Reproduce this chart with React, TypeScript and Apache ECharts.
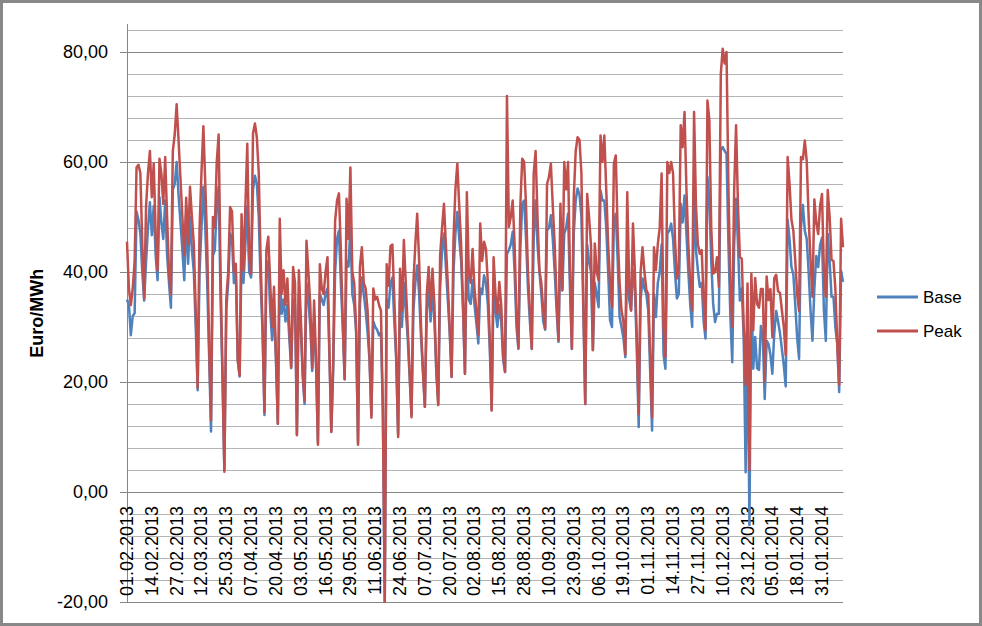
import React, { useEffect, useRef } from "react";
import * as echarts from "echarts";

// Daily series starting 01.02.2013 (Friday), one value per day, weeks Fri..Thu
const startDate = "2013-02-01";
const dayCount = 376;

const base: number[] = [
  35, 34, 28.5, 32, 32.5, 51, 49.5,
  47, 40, 34.8, 42, 48, 52.7, 46.7,
  52, 43, 38.5, 53.6, 49, 46, 53,
  43, 38, 33.5, 55, 56, 60, 54,
  49, 44, 38.5, 50.5, 41.5, 50, 44,
  40, 30, 18.5, 40, 48, 55.5, 48,
  38, 25, 11, 43, 44, 52, 55.5,
  35, 21, 4, 33, 38, 47, 46,
  38, 40, 24, 21, 43, 38, 45,
  52, 40, 39, 55, 57.5, 56, 50,
  38, 29, 14, 40, 42, 33, 27.6,
  33, 24, 12.4, 40, 32.4, 35, 31,
  34, 28, 22.5, 35, 34, 10.5, 36,
  30, 21, 16, 38, 35, 30, 22,
  31, 23, 9, 36, 35, 34, 36,
  37, 25, 11, 22, 40, 46, 47.5,
  38, 30, 20.5, 42, 41, 48, 36,
  34, 29, 9, 34, 39, 36, 33,
  29, 24, 14, 31, 30, 29.5, 28.5,
  29, 15, -20, 35, 33.5, 38, 39,
  31, 24, 10.5, 35, 30, 38, 33,
  28, 21, 14, 33, 38, 41.2, 36,
  28, 22, 15.5, 33, 36.7, 31, 37,
  31, 22, 16, 37, 44, 47, 41,
  35, 29, 21, 40, 47, 50.9, 46,
  42, 33, 21.5, 44, 35, 34.2, 38.5,
  34, 30.6, 27, 37, 36, 39.4, 38,
  34, 26, 15, 37, 33, 30, 34,
  31, 24, 21.8, 43.3, 44, 45, 47.3,
  40, 30, 26, 44, 52.4, 53, 46,
  37, 31, 26, 46, 53, 45, 40,
  36, 31, 29.5, 47.6, 48, 50.3, 46,
  40, 33, 27.3, 45, 36.7, 47, 48,
  50.6, 37, 26, 47, 53, 55.2, 54,
  50, 33, 16, 45, 42, 40, 25.8,
  38, 36, 33.6, 54.8, 53, 53, 48,
  40, 31.2, 30, 48.8, 50.6, 42, 31.8,
  30, 28, 24.5, 44.5, 35, 33, 40.3,
  37, 26, 11.8, 35, 38.8, 37, 36,
  33, 22, 11.2, 36, 31.8, 38, 40,
  45, 25, 22.4, 47, 47.5, 48.8, 46,
  40, 35.2, 36, 52.4, 49, 53.9, 47,
  40, 34, 30, 54.5, 44, 40.3, 37.3,
  38, 31, 27.9, 57.3, 53, 42, 34.2,
  30.9, 32.4, 32.4, 62.1, 62.7, 62, 61.5,
  45, 32, 23.6, 45, 53.3, 45, 34.8,
  37, 28, 3.6, 30, -6, 37, 22.4,
  28.2, 22.5, 22.2, 30.2, 28, 16.9, 27.5,
  26.9, 24.9, 21.5, 28.9, 32.9, 31, 28.9,
  26, 23, 19.2, 49.5, 46, 40.9, 39.5,
  34, 28, 24.2, 48.2, 52.2, 47.5, 46,
  40, 33, 27.5, 36.9, 42.9, 40.9, 44.9,
  46.2, 33, 27.5, 46.9, 42, 35.5, 35.5,
  30, 26.9, 18.2, 40.2, 38.2,
];

const peak: number[] = [
  45.5, 37, 34, 37, 42, 59, 59.5,
  58, 45, 35.2, 52, 58, 62, 53.6,
  59.7, 47, 40.3, 60.6, 57.9, 52.4, 60.9,
  50, 40, 36, 62, 65, 70.5, 64,
  57, 50, 43, 53.5, 45, 55.5, 50,
  45, 33, 19, 48, 58, 66.5, 56,
  45, 27, 13, 50, 48, 60, 65,
  40, 22, 3.7, 35, 40, 51.8, 51,
  40, 41.5, 24, 21.2, 50.5, 40.3, 52,
  63.3, 42.7, 39.7, 65.2, 67, 64.5, 58,
  42, 30, 14.5, 44, 46.4, 38, 30,
  37.3, 25, 12.4, 49.7, 36, 40.3, 34,
  38.8, 30, 22.7, 40.9, 38, 10.3, 40.3,
  32, 22, 16.6, 45.7, 40, 34, 22.5,
  34.8, 24, 8.6, 41.4, 37, 36, 40,
  42.7, 26, 10.9, 24, 49.3, 53, 54.3,
  44, 31, 20.5, 53.3, 46, 59, 40,
  38, 30, 8.6, 41, 44.5, 38, 37,
  33, 25, 13.5, 37, 35, 35.5, 34,
  33, 15, -20, 41.4, 37.5, 44.7, 45,
  35, 25, 10, 40.6, 33, 45.8, 38,
  30, 22, 13.6, 38, 45, 50.6, 42,
  30, 22, 15.5, 36, 40.9, 33, 40.6,
  34, 22, 15.8, 43, 48, 52.4, 45,
  38, 30, 20.9, 46, 55, 59.7, 52,
  45, 34, 21.5, 54.5, 40, 38, 44.2,
  37, 33, 28.5, 48.8, 42, 45.5, 44.2,
  38, 28, 14.8, 42.7, 36, 32.4, 38.2,
  34, 25, 21.8, 72, 48.2, 50, 53,
  45, 32, 26.2, 52, 60.6, 60, 52,
  40, 33, 26.1, 57.9, 62, 50, 40.3,
  38, 33, 29.7, 56, 57.3, 59.7, 52,
  45, 35, 27.6, 52.4, 36.7, 60, 55,
  60, 40, 26.1, 53.6, 62, 64.5, 64,
  57.9, 35, 16, 54.2, 50, 45, 25.8,
  45.2, 40, 38.5, 64.8, 60, 64.8, 55,
  45, 38, 33.6, 59.7, 61.2, 47, 38,
  33, 31, 25, 54.5, 38, 33, 48.8,
  40, 28, 14.2, 40, 44.5, 40, 36.7,
  36, 25, 13.6, 44.5, 40.3, 45, 48,
  57.9, 30, 24.5, 60, 58, 60, 57.9,
  46, 38.8, 40.9, 66.7, 62.7, 69.1, 55,
  45, 38, 33, 69.1, 52, 45, 43.3,
  44, 35, 29.4, 71.2, 67.6, 48, 39.7,
  40, 42.7, 37.3, 76, 80.6, 77.9, 80,
  55, 38, 30, 55, 66.7, 52, 42.7,
  42.4, 30, 19.5, 37.9, 4, 39.7, 29.4,
  38.9, 34.2, 33.5, 36.9, 36.9, 20.2, 39.2,
  34.9, 36.9, 28.2, 38.9, 39.5, 36.5, 36.2,
  33, 30, 24.9, 60.9, 56, 49.5, 47.5,
  42, 36, 32.9, 60.9, 60.5, 63.9, 60.2,
  50, 42, 35.5, 53.2, 49, 46.9, 52,
  54.2, 40, 35.5, 54.9, 50, 42.2, 42,
  37, 26.9, 19.5, 49.7, 44.5,
];

const yMin = -20;
const yMax = 85;
const yLabelValues = [-20, 0, 20, 40, 60, 80];
const seriesNames = ["Base", "Peak"];
const seriesColors = ["#4F81BD", "#C0504D"];

function buildDates(): string[] {
  const out: string[] = [];
  const [y, m, d] = startDate.split("-").map(Number);
  for (let i = 0; i < dayCount; i++) {
    const dt = new Date(Date.UTC(y, m - 1, d + i));
    const dd = String(dt.getUTCDate()).padStart(2, "0");
    const mm = String(dt.getUTCMonth() + 1).padStart(2, "0");
    out.push(`${dd}.${mm}.${dt.getUTCFullYear()}`);
  }
  return out;
}

const FONT = "'Liberation Sans', Arial, sans-serif";
const GRID_TOP = 24.5;
const GRID_BOTTOM = 24;
const CHART_H = 626;

export default function App() {
  const ref = useRef<HTMLDivElement>(null);
  useEffect(() => {
    if (!ref.current) return;
    const chart = echarts.init(ref.current, undefined, { renderer: "svg" });
    const dates = buildDates();
    const major = "#868686";
    const minor = "#B4B4B4";
    // category axis crosses the value axis at 0: shift it up from the grid bottom
    const gridH = CHART_H - GRID_TOP - GRID_BOTTOM;
    const zeroOffset = -((0 - yMin) / (yMax - yMin)) * gridH;
    chart.setOption({
      animation: false,
      backgroundColor: "#ffffff",
      grid: {
        left: 127,
        right: 139,
        top: GRID_TOP,
        bottom: GRID_BOTTOM,
        containLabel: false,
        outerBoundsMode: "none",
      },
      legend: {
        orient: "vertical",
        left: 872,
        top: 282,
        itemWidth: 41,
        itemHeight: 3,
        itemGap: 14,
        icon: "rect",
        data: seriesNames,
        textStyle: { fontSize: 17, lineHeight: 20, color: "#000", fontFamily: FONT },
      },
      xAxis: {
        type: "category",
        data: dates,
        boundaryGap: false,
        offset: zeroOffset,
        axisLine: { onZero: false, lineStyle: { color: major, width: 1 } },
        axisTick: { show: false },
        axisLabel: {
          interval: 12,
          rotate: 90,
          fontSize: 18,
          color: "#000",
          fontFamily: FONT,
          margin: 14,
        },
        splitLine: { show: false },
      },
      yAxis: [
        {
          // visible axis: line, ticks, labels, name
          type: "value",
          min: yMin,
          max: yMax,
          interval: 20,
          position: "left",
          name: "Euro/MWh",
          nameLocation: "middle",
          nameRotate: 90,
          nameGap: 60,
          nameTextStyle: { fontWeight: "bold", fontSize: 18, color: "#000", fontFamily: FONT },
          axisLine: { show: true, onZero: false, lineStyle: { color: major, width: 1 } },
          axisTick: {
            show: true,
            customValues: yLabelValues,
            length: 7,
            lineStyle: { color: major },
          },
          axisLabel: {
            customValues: yLabelValues,
            margin: 19,
            fontSize: 18,
            color: "#000",
            fontFamily: FONT,
            formatter: (v: number) =>
              v % 20 === 0 ? v.toFixed(2).replace(".", ",") : "",
          },
          splitLine: { show: false },
        },
        {
          // gridlines every 4 units (darker every 20)
          type: "value",
          min: yMin,
          max: yMax,
          interval: 4,
          position: "left",
          axisLine: { show: false, onZero: false },
          axisTick: { show: false },
          axisLabel: { show: false },
          splitLine: {
            show: true,
            showMaxLine: false,
            lineStyle: { color: [major, minor, minor, minor, minor], width: 1 },
          },
        },
      ],
      series: [
        {
          name: seriesNames[0],
          type: "line",
          yAxisIndex: 0,
          data: base,
          symbol: "none",
          clip: true,
          color: seriesColors[0],
          lineStyle: { width: 2.5, color: seriesColors[0], join: "round" },
        },
        {
          name: seriesNames[1],
          type: "line",
          yAxisIndex: 0,
          data: peak,
          symbol: "none",
          clip: true,
          color: seriesColors[1],
          lineStyle: { width: 2.5, color: seriesColors[1], join: "round" },
        },
      ],
    });
    return () => chart.dispose();
  }, []);

  return (
    <div style={{ position: "fixed", left: 0, top: 0, width: 982, height: 626, background: "#fff" }}>
      <div ref={ref} style={{ position: "absolute", left: 0, top: 0, width: 982, height: 626 }} />
      <div
        style={{
          position: "absolute",
          left: 0,
          top: 0,
          width: 982,
          height: 626,
          boxSizing: "border-box",
          border: "3px solid #888888",
          pointerEvents: "none",
        }}
      />
    </div>
  );
}
